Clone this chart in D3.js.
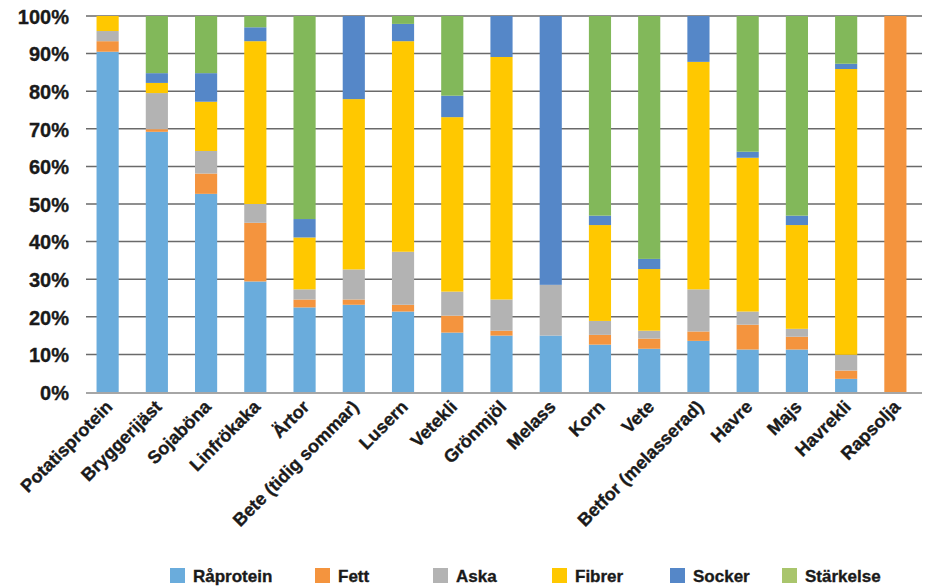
<!DOCTYPE html>
<html>
<head>
<meta charset="utf-8">
<script src="https://cdn.jsdelivr.net/npm/d3@7"></script>
<style>
    body { margin: 0; background: #fff; }
    text { font-family: "Liberation Sans Narrow", "Liberation Sans", sans-serif; font-weight: bold; fill: #1a1a1a; stroke: #1a1a1a; stroke-width: 0.35px; }
</style>
</head>
<body>
<div id="chart"></div>
<script>
// feed categories
const categories = ["Potatisprotein", "Bryggerijäst", "Sojaböna", "Linfrökaka", "Ärtor",
    "Bete (tidig sommar)", "Lusern", "Vetekli", "Grönmjöl", "Melass", "Korn", "Vete",
    "Betfor (melasserad)", "Havre", "Majs", "Havrekli", "Rapsolja"];

const seriesNames = ["Råprotein", "Fett", "Aska", "Fibrer", "Socker", "Stärkelse"];

// share of dry matter, %
const raprotein = [90.5, 69.2, 52.7, 29.4, 22.5, 23.2, 21.4, 15.8, 15.0, 15.0, 12.6, 11.5, 13.6, 11.3, 11.3, 3.5, 0];
const fett      = [2.8, 0.7, 5.4, 15.6, 2.1, 1.4, 1.8, 4.5, 1.3, 0, 2.6, 2.7, 2.5, 6.6, 3.4, 2.2, 100];
const aska      = [2.7, 9.6, 6.0, 5.0, 2.7, 8.0, 14.1, 6.4, 8.3, 13.5, 3.7, 2.1, 11.2, 3.5, 2.1, 4.2, 0];
const fibrer    = [4.0, 2.7, 13.1, 43.3, 13.8, 45.3, 56.0, 46.4, 64.5, 0, 25.5, 16.4, 60.5, 40.9, 27.6, 76.0, 0];
const socker    = [0, 2.6, 7.6, 3.7, 4.9, 22.1, 4.6, 5.7, 10.9, 71.5, 2.5, 2.7, 12.2, 1.6, 2.5, 1.4, 0];
const starkelse = [0, 15.2, 15.2, 3.0, 54.0, 0, 2.1, 21.2, 0, 0, 53.1, 64.6, 0, 36.1, 53.1, 12.7, 0];

const yTicks = [0, 10, 20, 30, 40, 50, 60, 70, 80, 90, 100];

const colors = ["#6aacdc", "#f4943e", "#b3b3b3", "#ffc800", "#5587c8", "#82b85a"];
const legendColors = ["#6aacdc", "#f4943e", "#b3b3b3", "#ffc800", "#5587c8", "#a9c56c"];
const legendX = [170, 315, 433, 552, 670, 782];

const width = 928, height = 587;
const margin = {top: 16, right: 6, bottom: 195, left: 86};

const svg = d3.select("#chart").append("svg")
    .attr("width", width)
    .attr("height", height);

// build table rows for the stack
let rows = categories.map(function(c, i) {
    return {
        name: c,
        "Råprotein": raprotein[i],
        "Fett": fett[i],
        "Aska": aska[i],
        "Fibrer": fibrer[i],
        "Socker": socker[i],
        "Stärkelse": starkelse[i]
    };
});

// normalise to 100 %
rows.forEach(function(r) {
    let sum = d3.sum(seriesNames, k => r[k]);
    seriesNames.forEach(k => r[k] = r[k] * 100 / sum);
});

let stacked = d3.stack().keys(seriesNames)(rows);

let x = d3.scaleBand()
    .domain(categories)
    .range([83, width - 8])
    .paddingInner(0.55)
    .paddingOuter(0.275);

let y = d3.scaleLinear()
    .domain([0, 100])
    .range([height - margin.bottom, margin.top]);

// gridlines
svg.append("g")
    .selectAll("line")
    .data(yTicks.filter(d => d > 0))
    .enter()
    .append("line")
    .attr("x1", margin.left)
    .attr("x2", width - margin.right)
    .attr("y1", d => y(d))
    .attr("y2", d => y(d))
    .attr("stroke", "#6a6a6a")
    .attr("stroke-width", 1.5);

// bars
svg.append("g")
    .selectAll("g")
    .data(stacked)
    .enter()
    .append("g")
    .attr("fill", (d, i) => colors[i])
    .selectAll("rect")
    .data(d => d)
    .enter()
    .append("rect")
    .attr("x", d => x(d.data.name))
    .attr("width", x.bandwidth())
    .attr("y", d => y(d[1]))
    .attr("height", d => y(d[0]) - y(d[1]));

// baseline
svg.append("line")
    .attr("x1", margin.left)
    .attr("x2", width - margin.right)
    .attr("y1", y(0) + 1)
    .attr("y2", y(0) + 1)
    .attr("stroke", "#a6a6a6")
    .attr("stroke-width", 2);

// y axis labels
let yAxis = svg.append("g")
    .attr("transform", "translate(69,0)")
    .call(d3.axisLeft(y).tickValues(yTicks).tickFormat(d => d + "%").tickSize(0).tickPadding(0));
yAxis.select(".domain").remove();
yAxis.selectAll("text")
    .attr("font-family", null)
    .attr("fill", null)
    .style("font-size", "20px")
    .attr("dy", "0.36em");

// x axis labels, rotated
svg.append("g")
    .selectAll("text")
    .data(categories)
    .enter()
    .append("text")
    .attr("transform", d => "translate(" + (x(d) + x.bandwidth() / 2 + 6) + "," + (y(0) + 16) + ") rotate(-45)")
    .attr("text-anchor", "end")
    .style("font-size", "18px")
    .text(d => d);

// legend
let legend = svg.append("g")
    .selectAll("g")
    .data(seriesNames)
    .enter()
    .append("g")
    .attr("transform", (d, i) => "translate(" + legendX[i] + ",568)");

legend.append("rect")
    .attr("width", 15)
    .attr("height", 15)
    .attr("fill", (d, i) => legendColors[i]);

legend.append("text")
    .attr("x", 23)
    .attr("y", 14)
    .style("font-size", "17px")
    .text(d => d);
</script>
</body>
</html>
